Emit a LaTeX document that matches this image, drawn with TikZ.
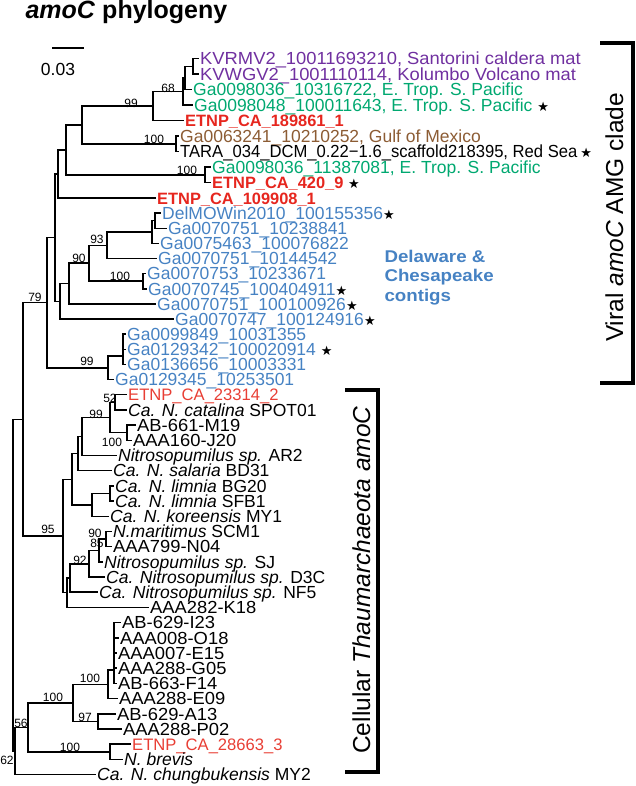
\documentclass[tikz,border=0pt]{standalone}
\usepackage{fontspec}
\setmainfont{Liberation Sans}
\newfontfamily\starfont{DejaVu Sans}
\newfontfamily\widefont{Liberation Sans}[FakeStretch=1.05]
\newfontfamily\narrowfont{Liberation Sans}[FakeStretch=0.95]
\newfontfamily\delfont{Liberation Sans}[FakeStretch=1.1]
\usetikzlibrary{calc}

\definecolor{virpurple}{RGB}{112,48,160}
\definecolor{pacgreen}{RGB}{0,168,112}
\definecolor{etnpred}{RGB}{230,38,30}
\definecolor{cellred}{RGB}{232,62,52}
\definecolor{gulfbrown}{RGB}{140,92,52}
\definecolor{delblue}{RGB}{70,130,195}

\newcommand{\blackstar}{\textcolor{black}{\starfont\fontsize{13}{13}\selectfont ★}}

\tikzset{leaf/.style={anchor=west,inner xsep=1.5pt,inner ysep=0pt,text height=13.5pt,text depth=1pt,
    font=\fontsize{17.5}{18}\selectfont},
  etnp/.style={leaf,text=etnpred,font=\bfseries\fontsize{16.4}{17}\selectfont},
  etnpcell/.style={leaf,text=cellred,font=\fontsize{16.6}{17}\selectfont},
  sag/.style={leaf,font=\widefont\fontsize{17.5}{18}\selectfont},
  boot/.style={inner sep=0pt,font=\fontsize{12}{12}\selectfont},
}

\begin{document}
\begin{tikzpicture}[x=1pt,y=-1pt,branch/.style={line width=1.5pt},
  bracket/.style={line width=3.5pt},
  sidelabel/.style={rotate=90,anchor=base,font=\fontsize{24.5}{25}\selectfont}]
\useasboundingbox (0,0) rectangle (635,786);

% title and scale bar
\node[anchor=base west,font=\bfseries\fontsize{25}{25}\selectfont] (title) at (22,19) {\textit{amoC} phylogeny};
\coordinate (sbL) at (52,48);
\coordinate (sbR) at (84,48);
\draw[line width=1.5pt] (sbL) -- (sbR);
\node[leaf,anchor=center] (sbtxt) at (58,69) {0.03};

% leaves, viral clade
\node[sag,text=virpurple] (l1) at (198.5,58.5) {KVRMV2\_10011693210, Santorini caldera mat};
\node[sag,text=virpurple] (l2) at (198.5,74.0) {KVWGV2\_1001110114, Kolumbo Volcano mat};
\node[leaf,text=pacgreen] (l3) at (191.5,89.5) {Ga0098036\_10316722, E. Trop. S. Pacific};
\node[leaf,text=pacgreen] (l4) at (192.5,105.0) {Ga0098048\_100011643, E. Trop. S. Pacific \blackstar};
\node[etnp] (l5) at (183.5,120.5) {ETNP\_CA\_189861\_1};
\node[leaf,text=gulfbrown] (l6) at (178.5,136.0) {Ga0063241\_10210252, Gulf of Mexico};
\node[leaf,font=\narrowfont\fontsize{17.5}{18}\selectfont] (l7) at (178.5,151.5) {TARA\_034\_DCM\_0.22−1.6\_scaffold218395, Red Sea\,\blackstar};
\node[leaf,text=pacgreen] (l8) at (210.5,167.0) {Ga0098036\_11387081, E. Trop. S. Pacific};
\node[etnp] (l9) at (210.5,182.5) {ETNP\_CA\_420\_9 \blackstar};
\node[etnp] (l10) at (155.5,198.0) {ETNP\_CA\_109908\_1};
\node[leaf,text=delblue] (l11) at (160.5,213.1) {DelMOWin2010\_100155356\blackstar};
\node[leaf,text=delblue] (l12) at (166.5,228.3) {Ga0070751\_10238841};
\node[leaf,text=delblue] (l13) at (158.5,243.4) {Ga0075463\_100076822};
\node[leaf,text=delblue] (l14) at (156.5,258.5) {Ga0070751\_10144542};
\node[leaf,text=delblue] (l15) at (145.5,273.6) {Ga0070753\_10233671};
\node[leaf,text=delblue] (l16) at (146.5,288.8) {Ga0070745\_100404911\blackstar};
\node[leaf,text=delblue] (l17) at (155.5,303.9) {Ga0070751\_100100926\blackstar};
\node[leaf,text=delblue] (l18) at (173.5,319.0) {Ga0070747\_100124916\blackstar};
\node[leaf,text=delblue] (l19) at (125.5,334.1) {Ga0099849\_10031355};
\node[leaf,text=delblue] (l20) at (125.5,349.3) {Ga0129342\_100020914 \blackstar};
\node[leaf,text=delblue] (l21) at (125.5,364.4) {Ga0136656\_10003331};
\node[leaf,text=delblue] (l22) at (113.5,379.5) {Ga0129345\_10253501};

% leaves, cellular clade
\node[etnpcell] (l23) at (126.5,394.7) {ETNP\_CA\_23314\_2};
\node[leaf] (l24) at (126.5,409.9) {\textit{Ca. N. catalina} SPOT01};
\node[sag] (l25) at (135.5,425.1) {AB-661-M19};
\node[sag] (l26) at (131.5,440.3) {AAA160-J20};
\node[leaf] (l27) at (116.5,455.5) {\textit{Nitrosopumilus sp.} AR2};
\node[leaf] (l28) at (111.5,470.7) {\textit{Ca. N. salaria} BD31};
\node[leaf] (l29) at (113.5,485.9) {\textit{Ca. N. limnia} BG20};
\node[leaf] (l30) at (113.5,501.1) {\textit{Ca. N. limnia} SFB1};
\node[leaf] (l31) at (108.5,516.3) {\textit{Ca. N. koreensis} MY1};
\node[leaf] (l32) at (111.5,531.5) {\textit{N.maritimus} SCM1};
\node[sag] (l33) at (111.5,546.6) {AAA799-N04};
\node[leaf] (l34) at (102.5,561.8) {\textit{Nitrosopumilus sp.} SJ};
\node[leaf] (l35) at (104.5,577.0) {\textit{Ca. Nitrosopumilus sp.} D3C};
\node[leaf] (l36) at (97.5,592.2) {\textit{Ca. Nitrosopumilus sp.} NF5};
\node[sag] (l37) at (148.5,607.4) {AAA282-K18};
\node[sag] (l38) at (120.5,622.6) {AB-629-I23};
\node[sag] (l39) at (118.5,637.8) {AAA008-O18};
\node[sag] (l40) at (116.5,653.0) {AAA007-E15};
\node[sag] (l41) at (116.5,668.2) {AAA288-G05};
\node[sag] (l42) at (116.5,683.4) {AB-663-F14};
\node[sag] (l43) at (117.5,698.6) {AAA288-E09};
\node[sag] (l44) at (115.5,713.8) {AB-629-A13};
\node[sag] (l45) at (121.5,729.0) {AAA288-P02};
\node[etnpcell] (l46) at (130.5,744.2) {ETNP\_CA\_28663\_3};
\node[leaf] (l47) at (122.5,759.4) {\textit{N. brevis}};
\node[leaf] (l48) at (95.5,774.6) {\textit{Ca. N. chungbukensis} MY2};

% internal nodes
\coordinate (nA) at (193,66.3);
\coordinate (nB) at (185,77.9);
\coordinate (nC) at (183,91.4);
\coordinate (nD) at (153,106.0);
\coordinate (nE) at (176,143.8);
\coordinate (nF) at (82,124.9);
\coordinate (nG) at (205,174.8);
\coordinate (nH) at (66,149.8);
\coordinate (nI) at (58,173.9);
\coordinate (nU) at (155,220.7);
\coordinate (nV) at (152,232.0);
\coordinate (nDa) at (107,245.3);
\coordinate (nK) at (143,281.2);
\coordinate (nDb) at (89,263.2);
\coordinate (nDc) at (69,283.6);
\coordinate (nDd) at (60,301.3);
\coordinate (nW) at (55,237.6);
\coordinate (nT) at (123,356.0);
\coordinate (nJ) at (108,367.8);
\coordinate (nVir) at (47,302.7);
\coordinate (nCa) at (115,402.3);
\coordinate (nCb) at (127,432.7);
\coordinate (nCc) at (110,417.5);
\coordinate (nCd) at (82,436.5);
\coordinate (nCe) at (78,453.6);
\coordinate (nLi) at (110,493.5);
\coordinate (nKo) at (92,504.9);
\coordinate (nP) at (72,479.3);
\coordinate (nMa) at (106,539.1);
\coordinate (nMb) at (99,550.5);
\coordinate (nMc) at (89,563.8);
\coordinate (nMd) at (70,578.0);
\coordinate (nMe) at (67,592.7);
\coordinate (nNit) at (63,536.0);
\coordinate (nTop) at (23,419.4);
\coordinate (nX1) at (114,670.0);
\coordinate (nX2) at (108,684.3);
\coordinate (nX3) at (98,721.4);
\coordinate (nX4) at (73,702.9);
\coordinate (nX5) at (110,751.8);
\coordinate (nX6) at (28,727.4);
\coordinate (nX7) at (15,751.0);
\coordinate (nRoot) at (13,585.2);

% branches
\foreach \p/\c in {nA/l1,nA/l2,nB/nA,nB/l3,nC/nB,nC/l4,nD/nC,nD/l5,nE/l6,nE/l7,
    nF/nD,nF/nE,nG/l8,nG/l9,nH/nF,nH/nG,nI/nH,nI/l10,nU/l11,nU/l12,nV/nU,nV/l13,
    nDa/nV,nDa/l14,nK/l15,nK/l16,nDb/nDa,nDb/nK,nDc/nDb,nDc/l17,nDd/nDc,nDd/l18,
    nW/nI,nW/nDd,nT/l19,nT/l20,nT/l21,nJ/nT,nJ/l22,nVir/nW,nVir/nJ,
    nCa/l23,nCa/l24,nCb/l25,nCb/l26,nCc/nCa,nCc/nCb,nCd/nCc,nCd/l27,nCe/nCd,nCe/l28,
    nLi/l29,nLi/l30,nKo/nLi,nKo/l31,nP/nCe,nP/nKo,nMa/l32,nMa/l33,nMb/nMa,nMb/l34,
    nMc/nMb,nMc/l35,nMd/nMc,nMd/l36,nMe/nMd,nMe/l37,nNit/nP,nNit/nMe,nTop/nVir,nTop/nNit,
    nX1/l38,nX1/l39,nX1/l40,nX1/l41,nX1/l42,nX2/nX1,nX2/l43,nX3/l44,nX3/l45,
    nX4/nX2,nX4/nX3,nX5/l46,nX5/l47,nX6/nX4,nX6/nX5,nX7/nX6,nX7/l48,nRoot/nTop,nRoot/nX7}
  \draw[branch] (\p) |- (\c);

% bootstrap values
\foreach \v/\x/\y [count=\i] in {99/131/103,68/168/88,100/154/139,100/187/170,93/97/239,
    90/79/258,100/120/276,79/35/297,99/87/361,52/110/398,99/96/414,100/112/442,95/48/529,
    90/95/533,85/97/543,92/80/560,100/90/678,100/53/697,97/85/717,56/21/723,100/70/747,62/7/760}
  \node[boot] (bs\i) at (\x,\y) {\v};

% groups
\node[anchor=west,align=left,text=delblue,font=\delfont\bfseries\fontsize{17}{19.5}\selectfont] (dcgroup) at (381,277.5)
  {Delaware \&\\Chesapeake\\contigs};

\coordinate (vtop) at (600,43);
\coordinate (vbot) at (600,383);
\draw[bracket] (vtop) -- ++(33,0) |- (vbot);
\node[sidelabel] (vtxt) at (623,217.5) {Viral \textit{amoC} AMG clade};

\coordinate (ctop) at (345,390);
\coordinate (cbot) at (345,772);
\draw[bracket] (ctop) -- ++(33,0) |- (cbot);
\node[sidelabel] (ctxt) at (370,580) {Cellular \textit{Thaumarchaeota amoC}};
\end{tikzpicture}
\end{document}
